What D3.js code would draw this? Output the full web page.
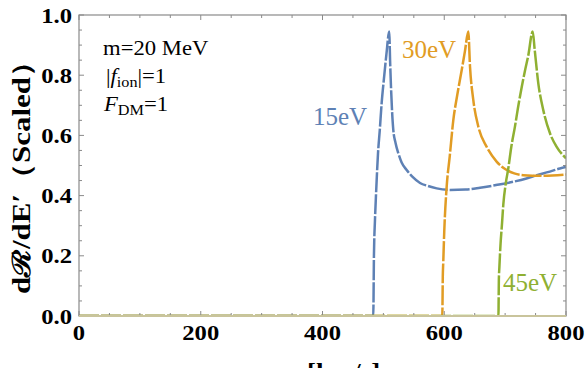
<!DOCTYPE html>
<html><head><meta charset="utf-8">
<script src="https://cdn.jsdelivr.net/npm/d3@7"></script>
<style>
body{margin:0;background:#fff;}
svg{display:block;}
text{font-family:"Liberation Serif","Times New Roman",serif;}
</style></head>
<body>
<svg id="chart" width="586" height="368"></svg>
<script>
// ---- data ----
const xTicks = [0, 200, 400, 600, 800];
const yTicks = [0.0, 0.2, 0.4, 0.6, 0.8, 1.0];
const yTickLabels = ["0.0", "0.2", "0.4", "0.6", "0.8", "1.0"];
const seriesNames = ["15eV", "30eV", "45eV"];
const seriesColors = ["#5E81B5", "#E19C24", "#8FB032"];

const v15 = [0, 483.4, 484.5, 486.2, 488.5, 491.2, 494, 497.2, 501, 505, 509.7, 511, 512.5, 516.3, 520, 524.5, 530, 538.3, 548, 560.2, 573, 587.6, 609.5, 635, 658.8, 685, 713.5, 735, 752, 770, 790, 800];
const r15 = [0, 0, 0.2, 0.319, 0.43, 0.541, 0.615, 0.708, 0.79, 0.87, 0.945, 0.85, 0.762, 0.618, 0.575, 0.541, 0.51, 0.485, 0.462, 0.442, 0.432, 0.424, 0.419, 0.42, 0.426, 0.435, 0.446, 0.457, 0.468, 0.478, 0.49, 0.495];

const v30 = [0, 596.8, 597.6, 598.4, 600, 604, 609, 614.9, 621, 628.7, 634, 639.5, 642.3, 647.7, 656, 669.7, 686, 702.6, 715, 730, 760, 800];
const r30 = [0, 0, 0.13, 0.18, 0.28, 0.43, 0.53, 0.651, 0.73, 0.817, 0.88, 0.945, 0.829, 0.718, 0.629, 0.562, 0.513, 0.485, 0.474, 0.468, 0.466, 0.47];

const v45 = [0, 689, 689.7, 690.5, 692.5, 695, 697, 701, 705.2, 710, 716.2, 721, 727.2, 732.6, 738, 745.3, 748.6, 754.5, 762.7, 773.7, 784.7, 800];
const r45 = [0, 0, 0.12, 0.16, 0.24, 0.31, 0.37, 0.44, 0.49, 0.56, 0.63, 0.69, 0.76, 0.815, 0.865, 0.945, 0.884, 0.773, 0.684, 0.607, 0.562, 0.524];

const seriesV = [v15, v30, v45];
const seriesR = [r15, r30, r45];

// ---- layout ----
const svg = d3.select("#chart");
const L = 79, R = 566, T = 15, B = 316;
const x = d3.scaleLinear().domain([0, 800]).range([L, R]);
const y = d3.scaleLinear().domain([0, 1]).range([B, T]);
const frameColor = "#8a8a8a";

svg.append("defs").append("clipPath").attr("id", "clip")
  .append("rect").attr("x", L).attr("y", T).attr("width", R - L).attr("height", B - T);

// lines
const line = d3.line().x(d => x(d[0])).y(d => y(d[1])).curve(d3.curveMonotoneX);
const gLines = svg.append("g").attr("clip-path", "url(#clip)");
seriesV.forEach((vs, i) => {
  const pts = vs.map((v, j) => [v, seriesR[i][j]]);
  gLines.append("path").datum(pts)
    .attr("d", line)
    .attr("fill", "none")
    .attr("stroke", seriesColors[i])
    .attr("stroke-width", 2.5)
    .attr("stroke-dasharray", "20,2");
});

// axes (ticks inward)
const xMinor = d3.range(0, 801, 50);
const yMinor = d3.range(0, 1.0001, 0.05);
function tickLen(isMajor){ return isMajor ? 5 : 3; }

const gAx = svg.append("g").attr("stroke", frameColor).attr("stroke-width", 1);
xMinor.forEach(v => {
  const major = v % 200 === 0;
  const len = tickLen(major);
  gAx.append("line").attr("x1", x(v)).attr("x2", x(v)).attr("y1", B).attr("y2", B - len);
  gAx.append("line").attr("x1", x(v)).attr("x2", x(v)).attr("y1", T).attr("y2", T + len);
});
yMinor.forEach(v => {
  const major = Math.abs(Math.round(v * 5) - v * 5) < 1e-6;
  const len = tickLen(major);
  gAx.append("line").attr("y1", y(v)).attr("y2", y(v)).attr("x1", L).attr("x2", L + len);
  gAx.append("line").attr("y1", y(v)).attr("y2", y(v)).attr("x1", R).attr("x2", R - len);
});
// frame
svg.append("rect").attr("x", L).attr("y", T).attr("width", R - L).attr("height", B - T)
  .attr("fill", "none").attr("stroke", frameColor).attr("stroke-width", 1.2);
// baseline where curves sit at zero
svg.append("line").attr("x1", L).attr("x2", R).attr("y1", B).attr("y2", B)
  .attr("stroke", "#c9c49c").attr("stroke-width", 2);

// tick labels
const tickFont = 22, stretch = 1.12;
xTicks.forEach(v => {
  svg.append("text")
    .attr("transform", `translate(${x(v)},340) scale(${stretch},1)`)
    .attr("text-anchor", "middle")
    .attr("font-weight", "bold").attr("font-size", tickFont).attr("fill", "#000")
    .text(String(v));
});
yTicks.forEach((v, i) => {
  svg.append("text")
    .attr("transform", `translate(72,${y(v) + 7.5}) scale(${stretch},1)`)
    .attr("text-anchor", "end")
    .attr("font-weight", "bold").attr("font-size", tickFont).attr("fill", "#000")
    .text(yTickLabels[i]);
});

// axis titles
svg.append("text")
  .attr("transform", `translate(30,170) rotate(-90) scale(1.24,1)`)
  .attr("text-anchor", "middle")
  .attr("font-weight", "bold").attr("font-size", 25).attr("fill", "#000")
  .text("dℛ/dE′（Scaled）");
svg.append("text")
  .attr("transform", `translate(307,379) scale(${stretch},1)`)
  .attr("text-anchor", "start")
  .attr("font-weight", "bold").attr("font-size", 24).attr("fill", "#000")
  .text("[km/s]");

// annotations
const ann = svg.append("g").attr("font-size", 21).attr("fill", "#000");
ann.append("text").attr("transform", `translate(103,55) scale(1.08,1)`).text("m=20 MeV");
const t2 = ann.append("text").attr("transform", `translate(106,83) scale(1.08,1)`);
t2.append("tspan").text("|");
t2.append("tspan").attr("font-style", "italic").text("f");
t2.append("tspan").attr("font-size", 15).attr("dy", 4).text("ion");
t2.append("tspan").attr("dy", -4).text("|=1");
const t3 = ann.append("text").attr("transform", `translate(104,111) scale(1.08,1)`);
t3.append("tspan").attr("font-style", "italic").text("F");
t3.append("tspan").attr("font-size", 15).attr("dy", 4).text("DM");
t3.append("tspan").attr("dy", -4).text("=1");

// series labels
const labelPos = [[313, 125], [402, 58], [503, 291]];
seriesNames.forEach((n, i) => {
  svg.append("text").attr("x", labelPos[i][0]).attr("y", labelPos[i][1])
    .attr("font-size", 25).attr("fill", seriesColors[i]).text(n);
});
</script>
</body></html>
